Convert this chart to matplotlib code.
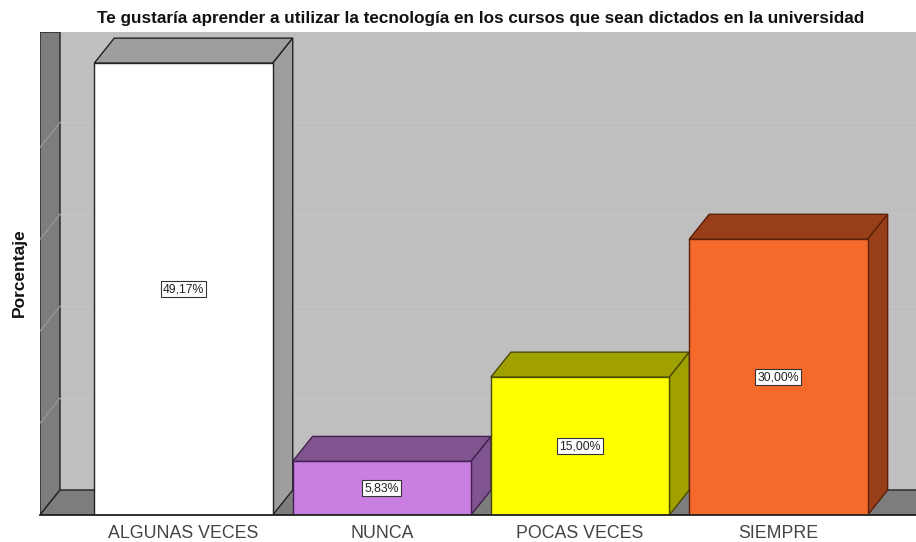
import numpy as np
import matplotlib
matplotlib.use('Agg')
import matplotlib.pyplot as plt
from matplotlib.patches import Polygon

plt.rcParams['font.family'] = ['Liberation Sans', 'DejaVu Sans']

categories = ['ALGUNAS VECES', 'NUNCA', 'POCAS VECES', 'SIEMPRE']
values = [49.17, 5.83, 15.00, 30.00]
labels = ['49,17%', '5,83%', '15,00%', '30,00%']
grid_values = [10, 20, 30, 40]
title = 'Te gustaría aprender a utilizar la tecnología en los cursos que sean dictados en la universidad'

front_colors = ['#ffffff', '#c97ee2', '#ffff00', '#f5692b']
side_colors = ['#9e9e9e', '#80548f', '#a0a000', '#983f1a']
edge_colors = ['#222222', '#43204f', '#4a4a00', '#5a2008']

W = 916
H = 542
x_left = 40
y_top = 32
y_base = 515
x_unit = 198.3
y_unit = 9.19
first_center = 183.5
bar_width = 178.5 / x_unit
dx = 20 / x_unit
dy = 25 / y_unit

fig = plt.figure(figsize=(W / 100, H / 100), dpi=100, facecolor='white')
ax = fig.add_axes([x_left / W, 1 - y_base / H, (W - x_left) / W, (y_base - y_top) / H])
xmin = -(first_center - x_left) / x_unit
xmax = (W - first_center) / x_unit
ymax = (y_base - y_top) / y_unit
ax.set_xlim(xmin, xmax)
ax.set_ylim(0, ymax)
ax.set_facecolor('#bfbfbf')
for s in ax.spines.values():
    s.set_visible(False)

# walls
ax.add_patch(Polygon([(xmin, 0), (xmin + dx, dy), (xmin + dx, ymax), (xmin, ymax)],
                     fc='#7d7d7d', ec='#222222', lw=1, zorder=1))
ax.add_patch(Polygon([(xmin, 0), (xmin + dx, dy), (xmax + 1, dy), (xmax + 1, 0)],
                     fc='#7d7d7d', ec='#222222', lw=1, zorder=1))
for g in grid_values:
    ax.plot([xmin + dx, xmax], [g + dy, g + dy], color='#c6c6c6', lw=0.8, zorder=1.5)
    ax.plot([xmin, xmin + dx], [g, g + dy], color='#9c9c9c', lw=0.8, zorder=1.5)

# bars, front face plus top and side
for i, v in enumerate(values):
    l = i - bar_width / 2
    r = i + bar_width / 2
    z = 2 + i
    ax.add_patch(Polygon([(l, v), (l + dx, v + dy), (r + dx, v + dy), (r, v)],
                         fc=side_colors[i], ec=edge_colors[i], lw=1, zorder=z))
    ax.add_patch(Polygon([(r, 0), (r + dx, dy), (r + dx, v + dy), (r, v)],
                         fc=side_colors[i], ec=edge_colors[i], lw=1, zorder=z))
    ax.bar(i, v, width=bar_width, color=front_colors[i], edgecolor=edge_colors[i], lw=1, zorder=z)
    ax.text(i, v / 2, labels[i], ha='center', va='center', fontsize=8.8, color='#222222', zorder=10,
            bbox=dict(boxstyle='square,pad=0.18', fc='white', ec='#333333', lw=0.8))

ax.axhline(0, color='#222222', lw=1.3, zorder=9, clip_on=False)
ax.set_xticks(range(len(categories)))
ax.set_xticklabels(categories, fontsize=12.8, color='#444444')
ax.set_yticks([])
ax.tick_params(axis='x', length=0, pad=7)

fig.text(481 / W, 1 - 18 / H, title, ha='center', va='center', fontsize=12.3, fontweight='bold', color='#111111')
fig.text(19 / W, 1 - 273 / H, 'Porcentaje', rotation=90, ha='center', va='center', fontsize=12.5, fontweight='bold', color='#111111')

fig.savefig('out.png', dpi=100)
